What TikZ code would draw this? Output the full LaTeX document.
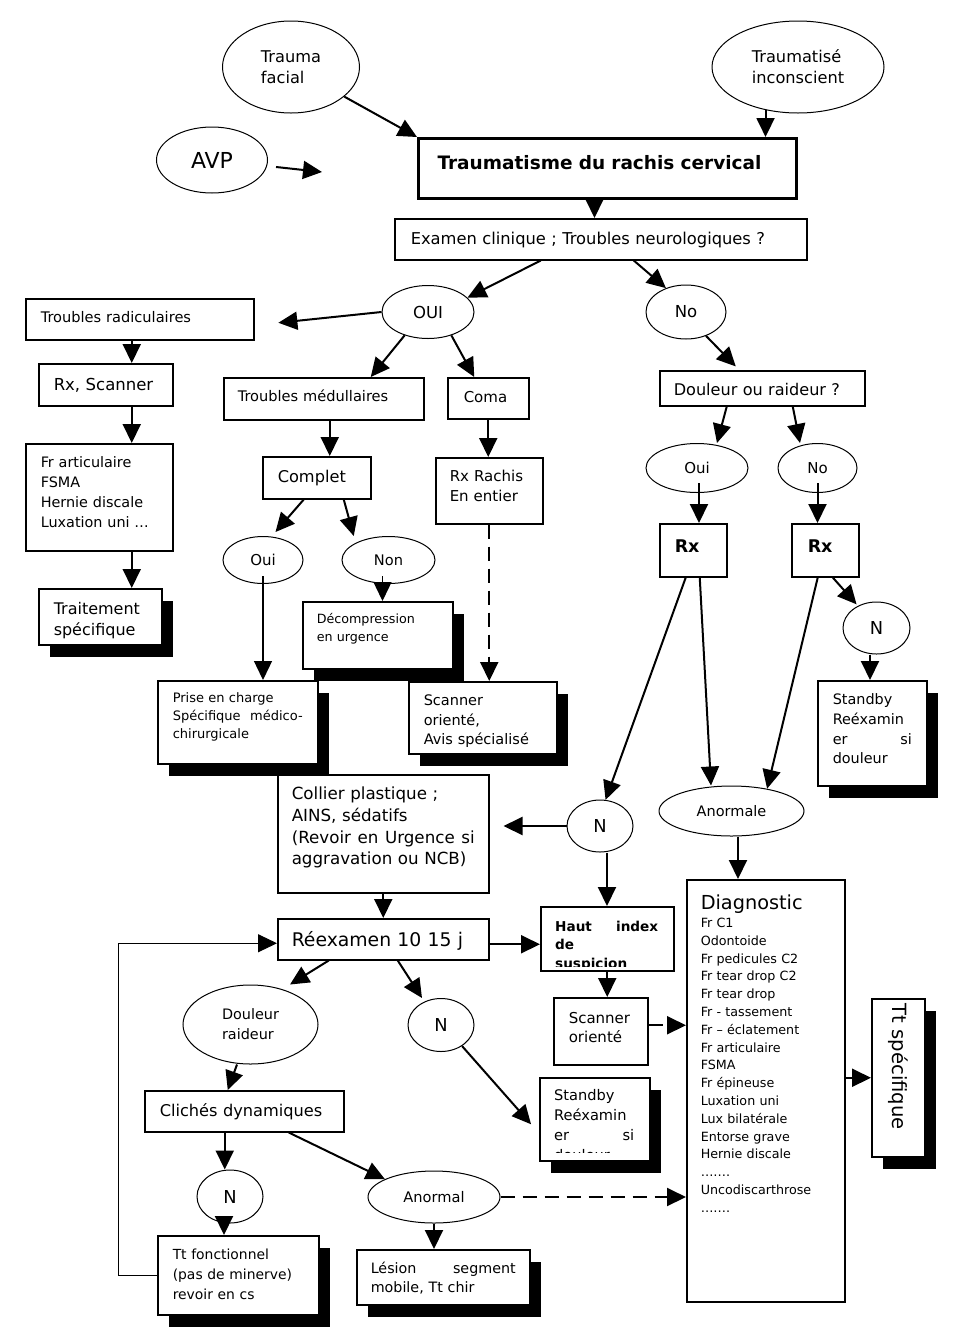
\documentclass[tikz,border=0pt]{standalone}
\usepackage{fontspec}
\setmainfont{DejaVu Sans}
\usepackage{graphicx}
\usetikzlibrary{arrows.meta,calc,shapes.geometric,shadows}
\newcommand{\fsz}[2]{\fontsize{#1}{#2}\selectfont}
\tikzset{
  >={Triangle[length=19pt,width=18pt]},
  box/.style={draw,line width=1.5pt,fill=white,anchor=north west,align=left,inner ysep=0pt},
  oval/.style={draw,ellipse,line width=1pt,fill=white,inner sep=0pt,align=left},
  blackshadow/.style={drop shadow={shadow xshift=11.5pt,shadow yshift=-12pt,opacity=1,fill=black}},
  arr/.style={->,line width=2pt},
  thinarr/.style={->,line width=1.3pt},
  dasharr/.style={->,line width=2pt,dash pattern=on 14pt off 8pt}
}

\begin{document}
\begin{tikzpicture}[x=1pt,y=-1pt]
  \fill[white] (0,0) rectangle (960,1342);
  \useasboundingbox (0,0) rectangle (960,1342);

  %--- Entry points ------------------------------------------------------------
  \node[oval,minimum width=137pt,minimum height=92pt,font=\fsz{16.2}{21}] (facial) at (291,67) {Trauma\\facial};
  \node[oval,minimum width=172pt,minimum height=92pt,font=\fsz{16.2}{21}] (incons) at (798,67) {Traumatisé\\inconscient};
  \node[oval,minimum width=111pt,minimum height=66pt,font=\fsz{22}{26}] (avp) at (212,160) {AVP};
  \coordinate (avpend) at (322,172);

  \node[box,line width=3pt,text width=340pt,inner xsep=19pt,text height=31pt,text depth=29pt,font=\bfseries\fsz{18.5}{22}] (trc) at (417,137) {Traumatisme du rachis cervical};
  \node[box,text width=380pt,inner xsep=16pt,text height=26pt,text depth=15pt,font=\fsz{16.3}{20}] (exam) at (394,218) {Examen clinique ; Troubles neurologiques ?};
  \node[oval,minimum width=92pt,minimum height=53pt,font=\fsz{16.5}{20}] (oui1) at (428,312) {OUI};
  \node[oval,minimum width=80pt,minimum height=54pt,font=\fsz{16.5}{20}] (no1) at (686,312) {No};

  %--- Troubles radiculaires ---------------------------------------------------
  \node[box,text width=198pt,inner xsep=15pt,text height=24pt,text depth=17pt,font=\fsz{14.6}{20}] (trad) at (25,298) {Troubles radiculaires};
  \node[box,text width=104pt,inner xsep=15pt,text height=27pt,text depth=15pt,font=\fsz{16.5}{20}] (rxsc) at (38,363) {Rx, Scanner};
  \node[box,text width=117pt,inner xsep=15pt,text height=24pt,text depth=83pt,font=\fsz{14.4}{20}] (frart) at (25,443) {Fr articulaire\\FSMA\\Hernie discale\\Luxation uni …};
  \node[box,blackshadow,text width=93pt,inner xsep=15pt,text height=26pt,text depth=30pt,font=\fsz{16}{21}] (trait) at (38,588) {Traitement\\spécifique};

  %--- Troubles medullaires / coma ---------------------------------------------
  \node[box,text width=172pt,inner xsep=14pt,text height=24pt,text depth=18pt,font=\fsz{14.6}{20}] (tmed) at (223,377) {Troubles médullaires};
  \node[box,text width=49pt,inner xsep=16pt,text height=25pt,text depth=16pt,font=\fsz{15}{20}] (coma) at (447,377) {Coma};
  \node[box,text width=78pt,inner xsep=15pt,text height=26pt,text depth=16pt,font=\fsz{16.2}{20}] (complet) at (262,456) {Complet};
  \node[box,text width=79pt,inner xsep=14pt,text height=24pt,text depth=42pt,font=\fsz{15}{20}] (rxrach) at (435,457) {Rx Rachis\\En entier};
  \node[oval,minimum width=80pt,minimum height=47pt,font=\fsz{15}{20}] (oui2) at (263,560) {Oui};
  \node[oval,minimum width=93pt,minimum height=47pt,font=\fsz{14.6}{20}] (non) at (388.5,560) {Non};
  \node[box,blackshadow,text width=122pt,inner xsep=14pt,text height=22pt,text depth=45pt,font=\fsz{12.7}{18}] (decomp) at (302,601) {Décompression\\en urgence};
  \node[box,blackshadow,text width=130pt,inner xsep=15pt,text height=22pt,text depth=61pt,font=\fsz{13}{18}] (prise) at (157,680) {Prise en charge\\Spécifique\hfill médico-\\chirurgicale};
  \node[box,blackshadow,text width=118pt,inner xsep=15pt,text height=24pt,text depth=48pt,font=\fsz{14.5}{19.5}] (scav) at (408,681) {Scanner\\orienté,\\Avis spécialisé};

  %--- No troubles: douleur ou raideur -----------------------------------------
  \node[box,text width=177pt,inner xsep=14pt,text height=25pt,text depth=10pt,font=\fsz{16.1}{20}] (dour) at (659,370) {Douleur ou raideur ?};
  \node[oval,minimum width=102pt,minimum height=49pt,font=\fsz{15}{20}] (oui3) at (697,468) {Oui};
  \node[oval,minimum width=79pt,minimum height=49pt,font=\fsz{15}{20}] (no2) at (817.5,468) {No};
  \node[box,text width=37pt,inner xsep=15pt,text height=29pt,text depth=24pt,font=\bfseries\fsz{17.5}{20}] (rx1) at (659,523) {Rx};
  \node[box,text width=35pt,inner xsep=16pt,text height=29pt,text depth=24pt,font=\bfseries\fsz{17.5}{20}] (rx2) at (791,523) {Rx};
  \node[oval,minimum width=67pt,minimum height=52pt,font=\fsz{17.8}{20}] (n1) at (876.5,628) {N};
  \node[box,blackshadow,text width=79pt,inner xsep=15pt,text height=24pt,text depth=81pt,font=\fsz{14.4}{19.7}] (stby1) at (817,680) {Standby\\Reéxamin\\er\hfill si\\douleur};

  %--- Collier, reexamen, diagnostic -------------------------------------------
  \node[box,text width=183pt,inner xsep=14pt,text height=25pt,text depth=93pt,font=\fsz{16.7}{21.7}] (collier) at (277,774) {Collier plastique ;\\AINS, sédatifs\\(Revoir\hfill en\hfill Urgence\hfill si\\aggravation ou NCB)};
  \node[oval,minimum width=66pt,minimum height=52pt,font=\fsz{17.8}{20}] (n2) at (600,826) {N};
  \node[oval,minimum width=145pt,minimum height=50pt,font=\fsz{14.5}{20}] (anormale) at (731.5,811) {Anormale};
  \node[box,text width=183pt,inner xsep=14pt,text height=28pt,text depth=13pt,font=\fsz{18.8}{22}] (reex) at (277,918) {Réexamen 10 15 j};

  \node[box,minimum width=133pt,minimum height=64pt,inner sep=0pt] (haut) at (540,906) {};
  \begin{scope}
    \clip (haut.north west) rectangle ([yshift=5pt]haut.south east);
    \node[anchor=north west,align=left,text width=103pt,inner xsep=15pt,inner ysep=0pt,text height=25pt,font=\bfseries\fsz{13.6}{18.5}] (hauttxt) at (haut.north west) {Haut\hfill index\\de\\suspicion};
  \end{scope}

  \node[box,text width=64pt,inner xsep=15pt,text height=25.5pt,text depth=41.5pt,font=\fsz{15}{19.5}] (scor) at (553,997) {Scanner\\orienté};
  \node[box,text width=130pt,inner xsep=14pt,text height=30pt,text depth=392pt,font=\fsz{12.7}{17.8}] (diag) at (686,879) {{\fsz{19.3}{22}Diagnostic}\\Fr C1\\Odontoide\\Fr pedicules C2\\Fr tear drop C2\\Fr tear drop\\Fr - tassement\\Fr – éclatement\\Fr articulaire\\FSMA\\Fr épineuse\\Luxation uni\\Lux bilatérale\\Entorse grave\\Hernie discale\\…….\\Uncodiscarthrose\\…….};
  \node[box,blackshadow,minimum width=53pt,inner xsep=0pt,text height=5pt,text depth=153pt,font=\fsz{19.6}{22}] (ttsp) at (871,998) {\rotatebox{-90}{Tt spécifique}};

  %--- Reexamen branches -------------------------------------------------------
  \node[oval,minimum width=135pt,minimum height=79pt,font=\fsz{14.4}{20}] (doura) at (250.5,1024.5) {Douleur\\raideur};
  \node[oval,minimum width=66pt,minimum height=53pt,font=\fsz{17.8}{20}] (n3) at (441,1025) {N};

  \node[box,blackshadow,minimum width=110pt,minimum height=83pt,inner sep=0pt] (stby2) at (539,1077) {};
  \begin{scope}
    \clip (stby2.north west) rectangle ([yshift=9pt]stby2.south east);
    \node[anchor=north west,align=left,text width=80pt,inner xsep=15pt,inner ysep=0pt,text height=23pt,font=\fsz{14.6}{20}] (stby2txt) at (stby2.north west) {Standby\\Reéxamin\\er\hfill si\\douleur};
  \end{scope}

  \node[box,text width=169pt,inner xsep=15pt,text height=26pt,text depth=15pt,font=\fsz{16.2}{20}] (cliche) at (144,1090) {Clichés dynamiques};
  \node[oval,minimum width=66pt,minimum height=53pt,font=\fsz{17.8}{20}] (n4) at (230,1196.5) {N};
  \node[oval,minimum width=132pt,minimum height=52pt,font=\fsz{14.6}{20}] (anormal) at (434,1197) {Anormal};
  \node[box,blackshadow,text width=131pt,inner xsep=15pt,text height=24pt,text depth=55pt,font=\fsz{13.9}{20}] (ttfonc) at (157,1235) {Tt fonctionnel\\(pas de minerve)\\revoir en cs};
  \node[box,blackshadow,text width=145pt,inner xsep=14pt,text height=24pt,text depth=31pt,font=\fsz{14.3}{19}] (lesion) at (356,1249) {Lésion\hfill segment\\mobile, Tt chir};

  %--- Top connectors ----------------------------------------------------------
  \draw[arr] (facial) -- (trc.north west);
  \draw[arr,shorten <=9pt] (avp) -- (avpend);
  \draw[arr] (incons.-127) -- (incons.-127 |- trc.north);
  \draw[arr] ([xshift=-13pt]trc.south) -- ([xshift=-13pt]trc.south |- exam.north);
  \draw[arr] ([xshift=-60pt]exam.south) -- (oui1.20);
  \draw[arr] ([xshift=33pt]exam.south) -- (no1.130);

  %--- OUI side ----------------------------------------------------------------
  \draw[arr,shorten >=24pt] (oui1.west) -- ([yshift=-6pt]trad.east);
  \draw[arr] (oui1.-135) -- ([xshift=47pt]tmed.north);
  \draw[arr] (oui1.-45) -- ([xshift=-14pt]coma.north);
  \draw[arr] ([xshift=-8pt]trad.south) -- ([xshift=-8pt]trad.south |- rxsc.north);
  \draw[arr] ([xshift=26pt]rxsc.south) -- ([xshift=26pt]rxsc.south |- frart.north);
  \draw[arr] ([xshift=32.5pt]frart.south) -- ([xshift=32.5pt]frart.south |- trait.north);
  \draw[arr] ([xshift=6pt]tmed.south) -- ([xshift=6pt]tmed.south |- complet.north);
  \draw[arr,shorten >=6pt] ([xshift=-13pt]complet.south) -- (oui2.70);
  \draw[arr] ([xshift=27pt]complet.south) -- ([xshift=37pt]complet.south |- non.north);
  \draw[thinarr] ([yshift=8pt]oui2.south) -- (oui2.south |- prise.north);
  \draw[thinarr] ([xshift=-6pt,yshift=8pt]non.south) -- ([xshift=-6pt]non.south |- decomp.north);
  \draw[arr] (coma.south) -- (coma.south |- rxrach.north);
  \draw[dasharr] (rxrach.south) -- (rxrach.south |- scav.north);

  %--- No side -----------------------------------------------------------------
  \draw[arr,shorten >=5pt] (no1.-50) -- ([xshift=-23pt]dour.north);
  \draw[arr] ([xshift=-35.5pt]dour.south) -- ([xshift=20pt]oui3.north);
  \draw[arr] ([xshift=30.5pt]dour.south) -- ([xshift=-17.5pt]no2.north);
  \draw[arr] ([xshift=2pt,yshift=10pt]oui3.south) -- ([xshift=2pt]oui3.south |- rx1.north);
  \draw[arr] ([yshift=10pt]no2.south) -- (no2.south |- rx2.north);
  \draw[arr] ([xshift=-7.5pt]rx1.south) -- (n2.78);
  \draw[arr] ([xshift=6.5pt]rx1.south) -- ([xshift=-20.5pt]anormale.north);
  \draw[arr] ([xshift=-7.5pt]rx2.south) -- (anormale.32);
  \draw[arr,shorten >=2pt] ([xshift=7.5pt]rx2.south) -- (n1.130);
  \draw[arr] ([xshift=-6.5pt]n1.south) -- ([xshift=-6.5pt]n1.south |- stby1.north);

  %--- Lower part --------------------------------------------------------------
  \draw[arr,shorten >=14pt] (n2.west) -- (n2.west -| collier.east);
  \draw[arr] ([xshift=7pt]n2.south) -- ([xshift=7pt]n2.south |- haut.north);
  \draw[arr] ([xshift=6.5pt]anormale.south) -- ([xshift=6.5pt]anormale.south |- diag.north);
  \draw[arr] (collier.south) -- (reex.north);
  \draw[arr] ([yshift=-5pt]reex.east) -- ([yshift=-5pt]reex.east -| haut.west);
  \draw[arr] (haut.south) -- (haut.south |- scor.north);
  \draw[dasharr] ([yshift=6pt]scor.east) -- ([yshift=6pt]scor.east -| diag.west);
  \draw[arr] ([yshift=13pt]diag.east) -- ([yshift=13pt]diag.east -| ttsp.west);
  \draw[arr] ([xshift=-54.5pt]reex.south) -- ([xshift=39.5pt]doura.north);
  \draw[arr] ([xshift=14.5pt]reex.south) -- ([xshift=-19pt]n3.north);
  \draw[arr,shorten >=12pt] (n3.-45) -- ([yshift=-14pt]stby2.west);
  \draw[arr] ([xshift=-13.5pt]doura.south) -- ([xshift=-16.5pt]cliche.north);
  \draw[arr] ([xshift=-19.5pt]cliche.south) -- ([xshift=-19.5pt]cliche.south |- n4.north);
  \draw[arr] ([xshift=-6pt]n4.south) -- ([xshift=-6pt]n4.south |- ttfonc.north);
  \draw[arr] ([xshift=44.5pt]cliche.south) -- (anormal.160);
  \draw[arr] (anormal.south) -- (anormal.south |- lesion.north);
  \draw[dasharr] (anormal.east) -- (anormal.east -| diag.west);
  \draw[->,line width=1pt] (ttfonc.west) -- ++(-39,0) |- ([yshift=-4pt]reex.west);

\end{tikzpicture}
\end{document}
